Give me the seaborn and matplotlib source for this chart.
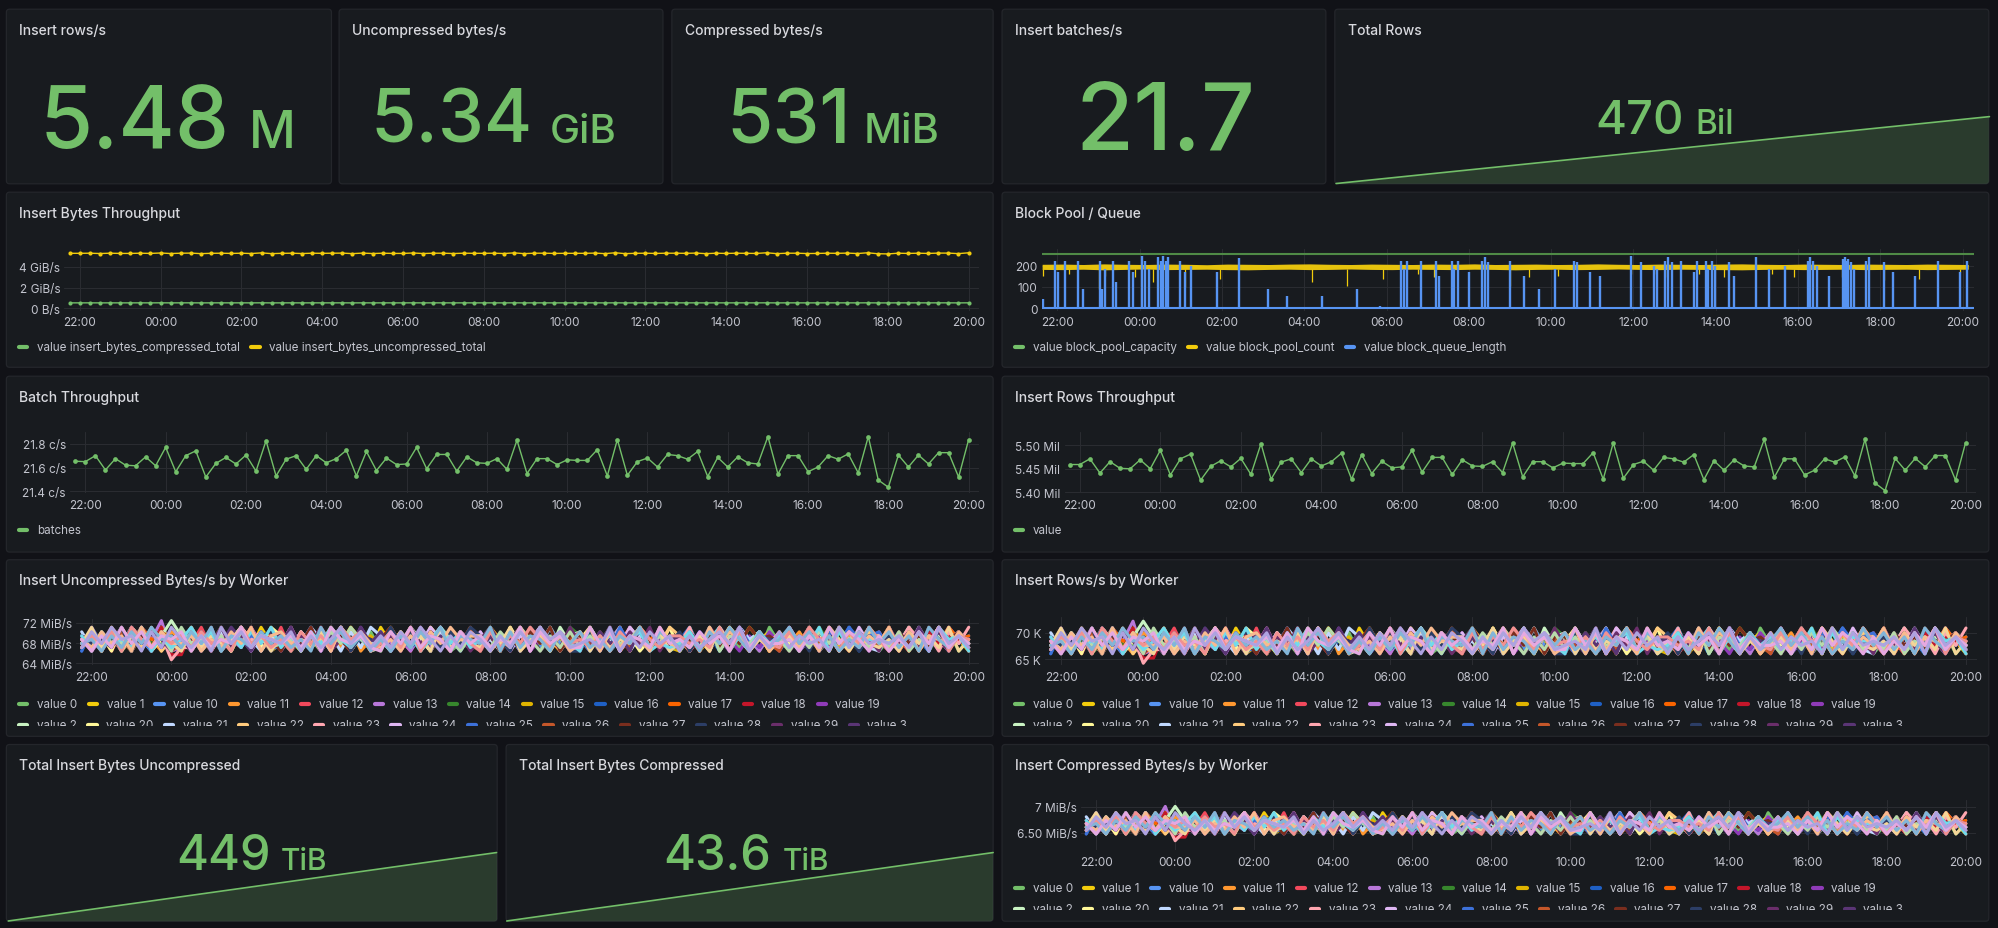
import numpy as np
import pandas as pd
import matplotlib
matplotlib.use("Agg")
import matplotlib.pyplot as plt
import matplotlib.dates as mdates
from matplotlib.patches import FancyBboxPatch
from matplotlib.lines import Line2D
import seaborn as sns

# ---------------- data ----------------
sample_start = "2024-05-01 21:45"
base_time = pd.Timestamp("2024-05-01 22:00")

batch_rate = [21.653, 21.65, 21.70, 21.58, 21.675, 21.62, 21.615, 21.69, 21.615, 21.77,
              21.565, 21.70, 21.74, 21.52, 21.635, 21.685, 21.63, 21.705, 21.57, 21.825,
              21.53, 21.67, 21.70, 21.585, 21.70, 21.64, 21.675, 21.745, 21.53, 21.735,
              21.575, 21.68, 21.625, 21.63, 21.77, 21.59, 21.71, 21.71, 21.57, 21.69,
              21.64, 21.635, 21.675, 21.585, 21.83, 21.55, 21.675, 21.675, 21.625, 21.665,
              21.66, 21.66, 21.75, 21.53, 21.835, 21.535, 21.65, 21.68, 21.605, 21.71,
              21.70, 21.67, 21.735, 21.525, 21.685, 21.605, 21.69, 21.64, 21.63, 21.86,
              21.545, 21.70, 21.70, 21.565, 21.605, 21.70, 21.67, 21.715, 21.555, 21.86,
              21.495, 21.435, 21.705, 21.605, 21.705, 21.63, 21.725, 21.725, 21.52, 21.835]

rows_rate_mil = [5.459, 5.459, 5.471, 5.441, 5.465, 5.451, 5.450, 5.469, 5.450, 5.489,
                 5.437, 5.471, 5.481, 5.426, 5.455, 5.467, 5.454, 5.472, 5.438, 5.503,
                 5.428, 5.464, 5.471, 5.442, 5.471, 5.456, 5.465, 5.483, 5.428, 5.480,
                 5.440, 5.466, 5.452, 5.454, 5.489, 5.443, 5.474, 5.474, 5.438, 5.469,
                 5.456, 5.455, 5.465, 5.442, 5.504, 5.433, 5.465, 5.465, 5.452, 5.462,
                 5.461, 5.461, 5.484, 5.428, 5.505, 5.430, 5.459, 5.466, 5.447, 5.474,
                 5.471, 5.464, 5.480, 5.427, 5.467, 5.447, 5.469, 5.456, 5.454, 5.512,
                 5.432, 5.471, 5.471, 5.437, 5.447, 5.471, 5.464, 5.475, 5.435, 5.512,
                 5.420, 5.404, 5.472, 5.447, 5.472, 5.454, 5.478, 5.478, 5.426, 5.505]

bytes_uncompressed_gib = [5.32, 5.32, 5.33, 5.30, 5.33, 5.31, 5.31, 5.33, 5.31, 5.35,
                          5.30, 5.33, 5.34, 5.29, 5.32, 5.33, 5.31, 5.33, 5.30, 5.36,
                          5.29, 5.32, 5.33, 5.30, 5.33, 5.32, 5.33, 5.34, 5.29, 5.34,
                          5.30, 5.33, 5.31, 5.31, 5.35, 5.30, 5.33, 5.33, 5.30, 5.33,
                          5.32, 5.32, 5.33, 5.30, 5.36, 5.29, 5.33, 5.33, 5.31, 5.32,
                          5.32, 5.32, 5.34, 5.29, 5.37, 5.29, 5.32, 5.33, 5.31, 5.33,
                          5.33, 5.32, 5.34, 5.29, 5.33, 5.31, 5.33, 5.32, 5.31, 5.37,
                          5.29, 5.33, 5.33, 5.30, 5.31, 5.33, 5.32, 5.34, 5.30, 5.37,
                          5.28, 5.26, 5.33, 5.31, 5.33, 5.31, 5.34, 5.34, 5.29, 5.37]

bytes_compressed_gib = [0.517, 0.517, 0.518, 0.515, 0.517, 0.516, 0.516, 0.518, 0.516, 0.520,
                        0.515, 0.518, 0.519, 0.514, 0.517, 0.518, 0.516, 0.518, 0.515, 0.521,
                        0.514, 0.517, 0.518, 0.515, 0.518, 0.517, 0.517, 0.519, 0.514, 0.519,
                        0.515, 0.518, 0.516, 0.516, 0.520, 0.515, 0.518, 0.518, 0.515, 0.518,
                        0.517, 0.517, 0.517, 0.515, 0.521, 0.514, 0.517, 0.517, 0.516, 0.517,
                        0.517, 0.517, 0.519, 0.514, 0.521, 0.514, 0.517, 0.518, 0.516, 0.518,
                        0.518, 0.517, 0.519, 0.514, 0.518, 0.516, 0.518, 0.517, 0.516, 0.521,
                        0.514, 0.518, 0.518, 0.515, 0.516, 0.518, 0.517, 0.518, 0.515, 0.521,
                        0.513, 0.512, 0.518, 0.516, 0.518, 0.516, 0.519, 0.519, 0.514, 0.521]

pool_capacity_hours = [-0.38, 22.26]
pool_capacity = [256, 256]
queue_base = [0, 0]
pool_band_start = "2024-05-01 21:38"
pool_lo = [182, 181, 183, 180, 182, 184, 181, 182, 183, 181,
           180, 182, 183, 181, 182, 184, 182, 181, 183, 182,
           181, 183, 182, 180, 182, 183, 181, 182, 184, 182,
           181, 183, 182, 181, 180, 182, 183, 181, 182, 183,
           181, 182, 183, 181, 182, 183]
pool_hi = [206, 207, 205, 208, 206, 205, 207, 206, 204, 207,
           206, 205, 207, 208, 206, 205, 207, 206, 205, 207,
           206, 208, 205, 206, 207, 205, 206, 208, 206, 205,
           207, 206, 205, 207, 208, 206, 205, 207, 206, 205,
           207, 206, 205, 207, 206, 205]
pool_dip_hours = [-0.34, 0.28, 1.01, 1.16, 1.89, 2.33, 3.10, 3.95, 6.20, 7.05, 7.91, 8.76,
                  9.15, 9.61, 11.01, 11.47, 12.17, 13.95, 14.50, 14.81, 15.58, 16.20,
                  17.36, 17.91, 19.07, 20.08, 20.93, 21.94]
pool_dip_values = [150, 161, 90, 153, 145, 122, 98, 137, 122, 106, 137, 161,
                   145, 145, 106, 145, 153, 161, 161, 145, 161, 145,
                   161, 145, 145, 130, 137, 169]
queue_spike_hours = [-0.34, -0.06, 0.03, 0.19, 0.50, 0.62, 1.04, 1.09, 1.16, 1.36, 1.44, 1.74,
                     1.83, 2.05, 2.14, 2.22, 2.45, 2.51, 2.57, 2.64, 2.70, 2.98, 3.10, 3.26,
                     3.88, 4.42, 5.12, 5.58, 6.43, 7.29, 7.83, 8.34, 8.42, 8.50, 8.84, 9.19,
                     9.27, 9.58, 9.64, 9.74, 10.00, 10.31, 10.39, 10.47, 11.01, 11.35, 11.71,
                     12.09, 12.56, 12.62, 12.95, 13.18, 13.95, 14.19, 14.50, 14.57, 14.76,
                     14.85, 14.93, 15.16, 15.46, 15.55, 15.75, 15.81, 15.91, 15.97, 16.31,
                     16.43, 16.98, 17.29, 17.67, 18.23, 18.29, 18.37, 18.45, 18.76, 19.09,
                     19.13, 19.18, 19.22, 19.29, 19.35, 19.64, 19.72, 20.08, 20.31, 20.85,
                     21.40, 21.94, 22.09]
queue_spike_values = [44, 223, 169, 223, 223, 91, 223, 91, 184, 223, 122, 223,
                      169, 247, 223, 184, 239, 223, 247, 223, 239, 223, 169, 200,
                      169, 234, 91, 59, 59, 91, 12, 223, 184, 223, 223, 223,
                      153, 223, 184, 223, 169, 223, 239, 216, 223, 153, 91,
                      184, 223, 216, 169, 153, 247, 216, 200, 184, 223,
                      239, 216, 223, 169, 223, 223, 184, 223, 200, 216,
                      153, 239, 184, 200, 223, 239, 223, 200, 153, 231,
                      239, 223, 231, 216, 184, 223, 239, 216, 169, 153,
                      223, 169, 223]

worker_ids = ["0", "1", "10", "11", "12", "13", "14", "15", "16", "17", "18", "19",
              "2", "20", "21", "22", "23", "24", "25", "26", "27", "28", "29", "3",
              "30", "31", "4", "5", "6", "7", "8", "9"]
worker_levels = [
    "5346253746 3625473826 4735264537 2846357243 6354726453 7362548364 2537463528 4637254736 2548364725",
    "3627485362 7453627384 5263745362 8453627453 3746253847 5362748536 4725364857 3625473648 5362748352",
    "6453726354 2736458362 7354628374 5263748526 4537263845 6372548364 5263748537 2645372846 3726453846",
    "4728364527 5364827364 3527463825 6473526374 2856374526 3748256374 6352847362 5473628457 4637285463",
    "3562748375 6483527463 8274635274 3652847365 4736258473 5264837465 3728465372 6453827364 7352648365",
    "5274638592 3746253846 2635748263 7452638475 3627458362 4735826374 5362748526 3847562738 4526374853",
    "4635728463 5274836452 6453728364 2738465273 5846372538 6273548362 4837265473 5263847265 3748526374",
    "6374526384 7263548372 4526374856 3647285364 4728365274 5364827453 2736485362 7453628374 5263748364",
    "2736485273 6452837462 5374628354 7263548273 6354827365 2748365274 5836274536 4625374826 6374528463",
    "5463728562 4738265374 3627485362 5847263748 2635847362 7453628574 3627485263 5748362745 3826374856",
    "3847265381 1726354827 6354827365 4726358473 5362847365 3748265374 6253748365 2847365274 5638274653",
    "6253748364 5362748263 4837265384 6253748263 7364825374 4526384752 6374852637 4725638472 6354827364",
    "4736285369 6463728463 5274638572 3648527364 4827365284 6354728365 4738265473 3627485364 5273846573",
    "5362847253 4837264538 6274538263 5374628374 3628475362 5847362538 2736485274 6453728365 4837265374",
    "7364528374 5263748526 3748562738 6354827365 4526374826 7354826374 5263748573 4638275463 2748365274",
    "3527463825 6374528364 7263548273 4736285364 5263748265 3847263748 6352847362 5748362547 6354728463",
    "4627385260 3372648573 4836275463 5263748265 6354827463 2736485374 4827365274 7263548365 3748562748",
    "6354827365 4726358274 5374628364 3627485273 7352648375 4637285463 5263748264 3847265384 5263748572",
    "2847365274 5638274653 3748265374 6253748365 4736285364 5263847365 6374528463 4526374856 7364528374",
    "5263748375 3847265374 6253847362 4738265274 3627485365 7452638475 5263748364 2736485263 4837265374",
    "3748526374 6352847365 2748365274 5836274536 4625374826 6374528463 3526374856 4736285364 5274638572",
    "6453827364 4736285367 5263748265 3847263748 6352847362 2748365274 7263548365 5362748526 4637285463",
    "4526384752 5274836452 7364825374 3628475362 5847362538 4526374826 3748526374 6253748365 2847365274",
    "5736284736 3627485273 4837265384 7354826374 2635847362 5374628364 6453728365 3748265374 5263847365",
    "3628475362 8453627453 4526374853 5263748526 6374852637 3627458362 4738265473 5263748573 6372548364",
    "4837265374 2736458362 6354728463 5374628354 3748256374 7263548372 5362847253 4627385264 3527463825",
    "6274538263 5847263748 3627485364 4736258473 5263748364 2846357243 4735826374 6354827365 5463728562",
    "5374628374 4625374826 7453628374 3526374856 6253847362 4827365284 3628475362 5736284736 4837265374",
    "3647285364 6374528463 5274638572 4738265274 2736485374 5362748536 6453827364 3748562748 5263748265",
    "4526374856 3748265374 6352847362 5263748265 4827365274 7352648375 3627485273 5847362538 4736285364",
    "5263847365 7263548365 4637285463 2748365274 6354827463 3847265384 5374628364 4526384752 6253748364",
    "3748562738 5362847365 4726358473 6374852637 5263748573 4538263746 2635748263 7364528374 5463728463",
]
unc_level_mib = [64.7, 65.7, 66.4, 67.1, 67.9, 68.7, 69.4, 70.2, 71.1, 72.4]
rows_level_k = [64.2, 65.2, 66.0, 66.8, 67.6, 68.4, 69.2, 70.0, 70.9, 72.2]
comp_level_mib = [6.35, 6.42, 6.48, 6.55, 6.61, 6.68, 6.74, 6.81, 6.89, 7.01]
worker_colors = ["#73BF69", "#F2CC0C", "#5794F2", "#FF9830", "#F2495C", "#B877D9",
                 "#37872D", "#E0B400", "#1F60C4", "#FA6400", "#C4162A", "#8F3BB8",
                 "#C8F2C2", "#FFF899", "#C0D8FF", "#FFCB7D", "#FFA6B0", "#DEB6F2",
                 "#3D71D9", "#C4572A", "#7A2E1E", "#2C3E66", "#6A2E6A", "#5A3575",
                 "#B7DBAB", "#F4D598", "#70DBED", "#F9BA8F", "#F29191", "#82B5D8",
                 "#E5A8E2", "#AEA2E0"]

total_hours = [0, 2, 4, 6, 8, 10, 12, 14, 16, 18, 20, 22]
total_rows_bil = [36.6, 76.1, 115.6, 155.0, 194.3, 233.9, 273.4, 312.8, 352.2, 391.6, 430.9, 470.3]
total_unc_tib = [20.6, 59.6, 98.6, 137.5, 176.6, 215.5, 254.5, 293.6, 332.4, 371.4, 410.3, 449.2]
total_comp_tib = [2.0, 5.8, 9.6, 13.3, 17.1, 20.9, 24.7, 28.5, 32.2, 36.0, 39.8, 43.6]

# ---------------- style ----------------
BG = "#111217"
PANEL = "#181b1f"
BORDER = "#24262b"
TITLE = "#d8d9de"
TICK = "#c3c5ce"
GRID = "#2a2c31"
GREEN = "#73BF69"
YELLOW = "#F2CC0C"
BLUE = "#5794F2"
TICK_SIZE = 8.5
LEG_SIZE = 8.4

sns.set_theme(style="dark")
plt.rcParams["font.family"] = ["Inter", "DejaVu Sans"]

W, H = 1568.0, 729.0          # layout units
S = 1999.0 / W                # pixels per layout unit

fig = plt.figure(figsize=(19.99, 9.29), dpi=100, facecolor=BG)
renderer = fig.canvas.get_renderer()


def fx(x):
    return x / W


def fy(y):
    return 1 - y / H


def rect(x0, y0, x1, y1):
    return [fx(x0), fy(y1), fx(x1) - fx(x0), fy(y0) - fy(y1)]


def T(h):
    return base_time + pd.Timedelta(hours=h)


def panel(x0, y0, x1, y1, title):
    p = FancyBboxPatch((fx(x0), fy(y1)), fx(x1) - fx(x0), fy(y0) - fy(y1),
                       boxstyle="round,pad=0,rounding_size=0.0016",
                       mutation_aspect=1999 / 929, transform=fig.transFigure,
                       fc=PANEL, ec=BORDER, lw=0.9, zorder=-5)
    fig.add_artist(p)
    fig.text(fx(x0 + 10), fy(y0 + 16), title, color=TITLE, fontsize=10,
             fontweight="medium", ha="left", va="center")
    return p


def legend(items, x, y, clip_ax=None):
    for label, color in items:
        ln = Line2D([fx(x + 2), fx(x + 8.5)], [fy(y), fy(y)], transform=fig.transFigure,
                    color=color, lw=3, solid_capstyle="round")
        if clip_ax is None:
            fig.add_artist(ln)
            t = fig.text(fx(x + 16), fy(y), label, color=TICK, fontsize=LEG_SIZE,
                         ha="left", va="center")
        else:
            clip_ax.add_line(ln)
            t = clip_ax.text(fx(x + 16), fy(y), label, color=TICK, fontsize=LEG_SIZE,
                             ha="left", va="center", transform=fig.transFigure, clip_on=True)
        w = t.get_window_extent(renderer=renderer).width / S
        x = x + 16 + w + 7


def style_ts(ax, ylim, yticks, ylabels):
    ax.set_facecolor("none")
    ax.set_xlim(T(-0.38), T(22.26))
    ax.set_ylim(*ylim)
    ax.set_yticks(yticks, ylabels)
    ax.xaxis.set_major_locator(mdates.HourLocator(byhour=range(0, 24, 2)))
    ax.xaxis.set_major_formatter(mdates.DateFormatter("%H:%M"))
    ax.grid(True, color=GRID, lw=0.8)
    for s in ax.spines.values():
        s.set_visible(False)
    ax.tick_params(axis="both", length=0, colors=TICK, labelsize=TICK_SIZE)
    ax.tick_params(axis="x", pad=4)
    ax.tick_params(axis="y", pad=3)
    ax.set_xlabel("")
    ax.set_ylabel("")


def stat_value(num, unit, x_split_num, x_unit, y_base, size_num, size_unit):
    fig.text(fx(x_split_num), fy(y_base), num, color=GREEN, fontsize=size_num,
             fontweight="medium", ha="right", va="baseline")
    if unit:
        fig.text(fx(x_unit), fy(y_base), unit, color=GREEN, fontsize=size_unit,
                 fontweight="medium", ha="left", va="baseline")


def sparkline(p, x0, y0, x1, y1, hours, values):
    ax = fig.add_axes(rect(x0, y0, x1, y1))
    ax.set_facecolor("none")
    ax.set_axis_off()
    t = [T(h) for h in hours]
    sns.lineplot(x=t, y=values, ax=ax, color=GREEN, lw=1.2, clip_on=False)
    poly = ax.fill_between(t, values, min(values), color=GREEN, alpha=0.2, lw=0)
    poly.set_clip_path(p)
    ax.set_xlim(t[0], t[-1])
    ax.set_ylim(min(values), max(values))


series_times = pd.date_range(sample_start, periods=len(batch_rate), freq="15min")

# ---------------- row 1: stats ----------------
panel(5, 8, 260, 145, "Insert rows/s")
stat_value("5.48", "M", 180, 195, 115.8, 62, 37)
panel(266, 8, 520, 145, "Uncompressed bytes/s")
stat_value("5.34", "GiB", 417.6, 431, 111.9, 53, 29)
panel(527, 8, 779, 145, "Compressed bytes/s")
stat_value("531", "MiB", 667.8, 677.8, 112.4, 54, 30)
panel(786, 8, 1040, 145, "Insert batches/s")
fig.text(fx(914.4), fy(117.6), "21.7", color=GREEN, fontsize=68,
         fontweight="medium", ha="center", va="baseline")
p_rows = panel(1047, 8, 1560, 145, "Total Rows")
sparkline(p_rows, 1048, 92.3, 1560.5, 144.8, total_hours, total_rows_bil)
stat_value("470", "Bil", 1320.5, 1329.5, 105.1, 34, 24)

# ---------------- row 2 ----------------
panel(5, 151.6, 779, 289, "Insert Bytes Throughput")
ax = fig.add_axes(rect(50.5, 196, 768, 244.5))
sns.lineplot(x=series_times, y=bytes_compressed_gib, ax=ax, color=GREEN, lw=1,
             marker="o", markersize=3, markeredgewidth=0)
sns.lineplot(x=series_times, y=bytes_uncompressed_gib, ax=ax, color=YELLOW, lw=1,
             marker="o", markersize=3, markeredgewidth=0)
style_ts(ax, (-0.23, 5.76), [0, 2, 4], ["0 B/s", "2 GiB/s", "4 GiB/s"])
legend([("value insert_bytes_compressed_total", GREEN),
        ("value insert_bytes_uncompressed_total", YELLOW)], 13, 273)

panel(786, 151.6, 1560, 289, "Block Pool / Queue")
ax = fig.add_axes(rect(817, 196, 1548, 244.5))
cap_t = [T(h) for h in pool_capacity_hours]
band_t = pd.date_range(pool_band_start, periods=len(pool_lo), freq="30min")
ax.fill_between(band_t, pool_lo, pool_hi, color=YELLOW, alpha=0.95, lw=0)
ax.vlines([T(h) for h in pool_dip_hours], pool_dip_values, 186, color=YELLOW, lw=0.9)
ax.vlines([T(h) for h in queue_spike_hours], 0, queue_spike_values, color=BLUE, lw=1.7)
sns.lineplot(x=cap_t, y=queue_base, ax=ax, color=BLUE, lw=1.5)
sns.lineplot(x=cap_t, y=pool_capacity, ax=ax, color="#4f8a46", lw=1.5)
style_ts(ax, (-11.3, 278.9), [0, 100, 200], ["0", "100", "200"])
legend([("value block_pool_capacity", GREEN), ("value block_pool_count", YELLOW),
        ("value block_queue_length", BLUE)], 794, 273)

# ---------------- row 3 ----------------
panel(5, 296, 779, 434, "Batch Throughput")
ax = fig.add_axes(rect(55, 340, 768, 388))
sns.lineplot(x=series_times, y=batch_rate, ax=ax, color=GREEN, lw=1,
             marker="o", markersize=3.4, markeredgewidth=0)
style_ts(ax, (21.383, 21.896), [21.4, 21.6, 21.8], ["21.4 c/s", "21.6 c/s", "21.8 c/s"])
legend([("batches", GREEN)], 13, 417)

panel(786, 296, 1560, 434, "Insert Rows Throughput")
ax = fig.add_axes(rect(835, 340, 1550, 388))
sns.lineplot(x=series_times, y=rows_rate_mil, ax=ax, color=GREEN, lw=1,
             marker="o", markersize=3.4, markeredgewidth=0)
style_ts(ax, (5.398, 5.527), [5.40, 5.45, 5.50], ["5.40 Mil", "5.45 Mil", "5.50 Mil"])
legend([("value", GREEN)], 794, 417)

# ---------------- worker table ----------------
frames = []
for wid, lv in zip(worker_ids, worker_levels):
    digits = lv.replace(" ", "")
    frames.append(pd.DataFrame({
        "time": pd.date_range(sample_start, periods=len(digits), freq="15min"),
        "worker": "value " + wid,
        "level": [int(c) for c in digits],
    }))
workers = pd.concat(frames, ignore_index=True)
workers["unc"] = workers["level"].map(dict(enumerate(unc_level_mib)))
workers["rows"] = workers["level"].map(dict(enumerate(rows_level_k)))
workers["comp"] = workers["level"].map(dict(enumerate(comp_level_mib)))
worker_labels = ["value " + w for w in worker_ids]
legend_items = list(zip(worker_labels, worker_colors))


def worker_panel(px0, py0, px1, py1, title, ax_rect, col, ylim, yticks, ylabels, leg_y, clip_y):
    panel(px0, py0, px1, py1, title)
    ax = fig.add_axes(rect(*ax_rect))
    sns.lineplot(data=workers, x="time", y=col, hue="worker", hue_order=worker_labels,
                 palette=worker_colors, legend=False, lw=2.2, estimator=None,
                 errorbar=None, ax=ax)
    style_ts(ax, ylim, yticks, ylabels)
    lax = fig.add_axes(rect(px0 + 2, leg_y - 8, px1 - 2, clip_y))
    lax.set_axis_off()
    legend(legend_items[:12], px0 + 8, leg_y, clip_ax=lax)
    legend(legend_items[12:24], px0 + 8, leg_y + 17, clip_ax=lax)


worker_panel(5, 440, 779, 578.6, "Insert Uncompressed Bytes/s by Worker",
             (60, 486.3, 768, 522.9), "unc", (63.6, 72.78), [64, 68, 72],
             ["64 MiB/s", "68 MiB/s", "72 MiB/s"], 553, 570.8)
worker_panel(786, 440, 1560, 578.6, "Insert Rows/s by Worker",
             (820, 485, 1550.5, 522.9), "rows", (63.8, 72.98), [65, 70],
             ["65 K", "70 K"], 553, 570.8)

# ---------------- row 5 ----------------
p_unc = panel(5, 585, 390, 723.7, "Total Insert Bytes Uncompressed")
sparkline(p_unc, 6.5, 669.8, 389.5, 723.5, total_hours, total_unc_tib)
stat_value("449", "TiB", 212.6, 220, 682.4, 35, 21.5)
p_comp = panel(397, 585, 779, 723.7, "Total Insert Bytes Compressed")
sparkline(p_comp, 397.5, 669.8, 779, 723.5, total_hours, total_comp_tib)
stat_value("43.6", "TiB", 605, 614, 682.4, 35, 21.5)

worker_panel(786, 585, 1560, 723.7, "Insert Compressed Bytes/s by Worker",
             (848, 628.8, 1550, 668), "comp", (6.167, 7.127), [6.5, 7],
             ["6.50 MiB/s", "7 MiB/s"], 697.3, 715.1)

fig.savefig("out.png", dpi=100, facecolor=BG)
